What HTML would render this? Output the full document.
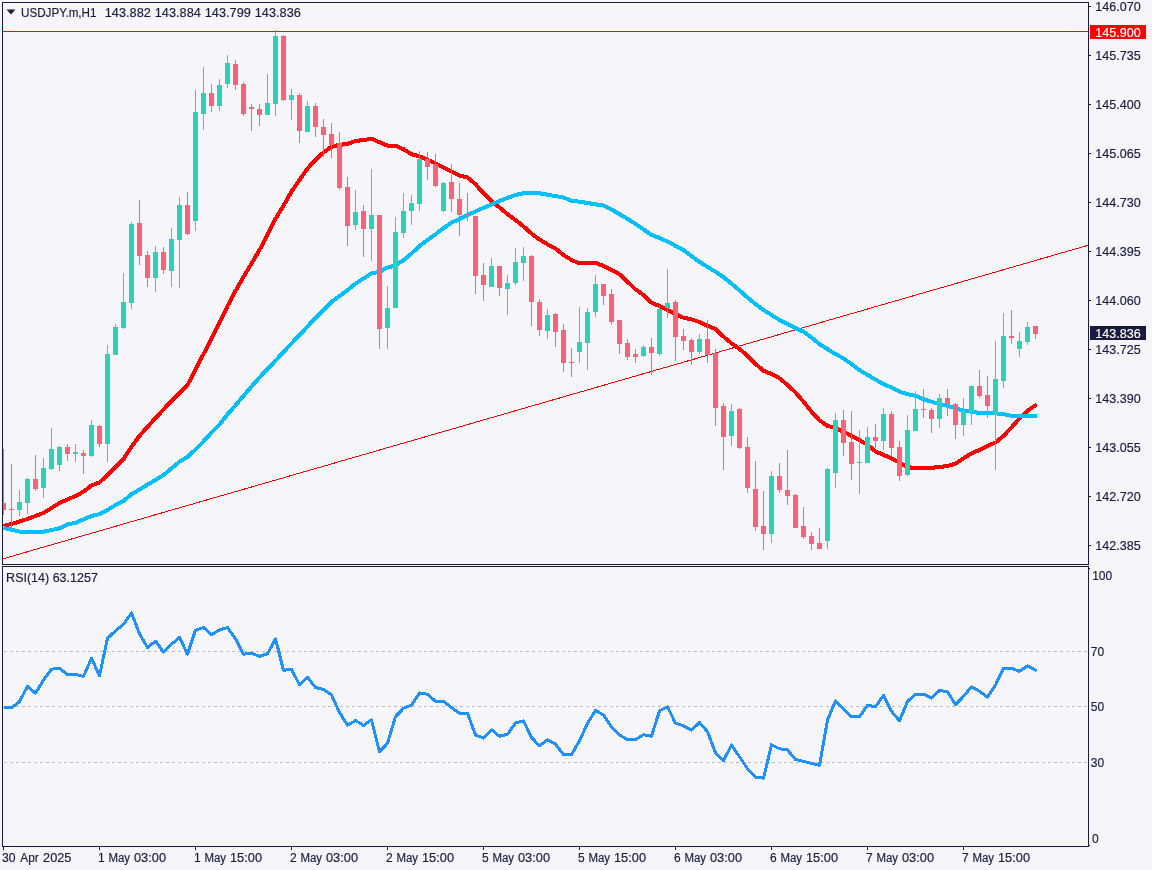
<!DOCTYPE html>
<html><head><meta charset="utf-8"><title>USDJPY.m,H1</title>
<style>
html,body{margin:0;padding:0;background:#f5f5fa;}
body{width:1152px;height:870px;overflow:hidden;}
svg{display:block;}
text{font-family:"Liberation Sans",sans-serif;fill:#1a1a40;stroke:#1a1a40;stroke-width:0.16px;}
.ax{font-size:12px;}
</style></head><body>
<svg width="1152" height="870" viewBox="0 0 1152 870">
<rect width="1152" height="870" fill="#f5f5fa"/>

<g shape-rendering="crispEdges" fill="#1a1a40">
<rect x="2" y="2" width="1087" height="1"/>
<rect x="2" y="2" width="1" height="563"/>
<rect x="2" y="564" width="1087" height="1"/>
<rect x="2" y="566" width="1087" height="1"/>
<rect x="2" y="566" width="1" height="281"/>
<rect x="2" y="846" width="1087" height="1"/>
<rect x="1088" y="2" width="1" height="563"/>
<rect x="1088" y="566" width="1" height="281"/>
<rect x="1089" y="6" width="2" height="1"/>
<rect x="1089" y="55" width="2" height="1"/>
<rect x="1089" y="104" width="2" height="1"/>
<rect x="1089" y="153" width="2" height="1"/>
<rect x="1089" y="202" width="2" height="1"/>
<rect x="1089" y="251" width="2" height="1"/>
<rect x="1089" y="300" width="2" height="1"/>
<rect x="1089" y="349" width="2" height="1"/>
<rect x="1089" y="398" width="2" height="1"/>
<rect x="1089" y="447" width="2" height="1"/>
<rect x="1089" y="496" width="2" height="1"/>
<rect x="1089" y="545" width="2" height="1"/>
<rect x="1089" y="568" width="1" height="1"/>
<rect x="1089" y="845" width="1" height="1"/>
<rect x="3" y="847" width="1" height="3"/>
<rect x="99" y="847" width="1" height="3"/>
<rect x="195" y="847" width="1" height="3"/>
<rect x="291" y="847" width="1" height="3"/>
<rect x="387" y="847" width="1" height="3"/>
<rect x="483" y="847" width="1" height="3"/>
<rect x="579" y="847" width="1" height="3"/>
<rect x="675" y="847" width="1" height="3"/>
<rect x="771" y="847" width="1" height="3"/>
<rect x="867" y="847" width="1" height="3"/>
<rect x="963" y="847" width="1" height="3"/>
</g>
<g shape-rendering="crispEdges" stroke="#bcbcbc" stroke-width="1" stroke-dasharray="3 3">
<line x1="4" y1="651.5" x2="1088" y2="651.5"/>
<line x1="4" y1="706.5" x2="1088" y2="706.5"/>
<line x1="4" y1="762.5" x2="1088" y2="762.5"/>
</g>
<rect x="3" y="31" width="1085" height="1" fill="#ff0000" shape-rendering="crispEdges"/>
<line x1="3" y1="558.8" x2="1088" y2="245.3" stroke="#ff0000" stroke-width="1" shape-rendering="crispEdges"/>
<polyline points="3.5,525.8 11.5,524.0 27.5,519.0 43.5,513.0 59.5,503.0 75.5,496.0 83.5,491.7 91.5,485.5 99.5,482.5 107.5,475.0 123.5,459.0 131.5,446.7 139.5,435.8 155.5,418.0 171.5,401.0 187.5,385.0 195.5,369.5 203.5,354.0 211.5,339.0 219.5,322.7 227.5,306.0 235.5,291.0 243.5,276.8 251.5,263.5 259.5,250.0 267.5,234.9 275.5,218.9 283.5,205.7 291.5,191.5 299.5,180.0 307.5,168.5 315.5,160.0 323.5,152.4 331.5,146.8 339.5,144.8 347.5,144.0 355.5,141.0 363.5,140.0 371.5,138.8 379.5,142.2 387.5,145.6 395.5,145.8 403.5,149.2 411.5,154.2 419.5,156.3 427.5,160.0 435.5,163.3 443.5,167.5 451.5,171.7 459.5,175.5 467.5,177.5 475.5,184.2 483.5,193.3 491.5,200.8 499.5,207.5 507.5,214.2 515.5,220.0 523.5,226.5 531.5,233.5 539.5,239.5 547.5,244.3 555.5,248.5 563.5,255.0 571.5,260.0 579.5,263.5 587.5,262.7 595.5,262.7 603.5,266.0 611.5,270.0 619.5,274.3 627.5,281.8 635.5,289.3 643.5,295.0 651.5,302.7 659.5,306.0 667.5,310.0 675.5,314.3 683.5,317.7 691.5,319.3 699.5,322.0 707.5,325.8 715.5,329.0 723.5,336.7 731.5,343.3 739.5,349.0 747.5,355.8 755.5,364.0 763.5,370.8 771.5,374.0 779.5,378.3 787.5,385.0 795.5,392.5 803.5,401.7 811.5,411.7 819.5,420.4 827.5,425.8 835.5,428.0 843.5,431.7 851.5,435.8 859.5,440.0 867.5,445.0 875.5,451.5 883.5,455.0 891.5,458.3 899.5,462.5 907.5,467.2 915.5,468.0 923.5,468.0 931.5,467.8 939.5,467.0 947.5,466.0 955.5,463.7 963.5,458.3 971.5,453.3 979.5,450.0 987.5,445.8 995.5,442.5 1003.5,435.8 1011.5,427.5 1019.5,418.3 1027.5,410.8 1035.5,405.3 1036.7,404.5" fill="none" stroke="#ff0000" stroke-width="2.8" stroke-linejoin="round"/><polyline points="3.5,525.8 11.5,524.0 27.5,519.0 43.5,513.0 59.5,503.0 75.5,496.0 83.5,491.7 91.5,485.5 99.5,482.5 107.5,475.0 123.5,459.0 131.5,446.7 139.5,435.8 155.5,418.0 171.5,401.0 187.5,385.0 195.5,369.5 203.5,354.0 211.5,339.0 219.5,322.7 227.5,306.0 235.5,291.0 243.5,276.8 251.5,263.5 259.5,250.0 267.5,234.9 275.5,218.9 283.5,205.7 291.5,191.5 299.5,180.0 307.5,168.5 315.5,160.0 323.5,152.4 331.5,146.8 339.5,144.8 347.5,144.0 355.5,141.0 363.5,140.0 371.5,138.8 379.5,142.2 387.5,145.6 395.5,145.8 403.5,149.2 411.5,154.2 419.5,156.3 427.5,160.0 435.5,163.3 443.5,167.5 451.5,171.7 459.5,175.5 467.5,177.5 475.5,184.2 483.5,193.3 491.5,200.8 499.5,207.5 507.5,214.2 515.5,220.0 523.5,226.5 531.5,233.5 539.5,239.5 547.5,244.3 555.5,248.5 563.5,255.0 571.5,260.0 579.5,263.5 587.5,262.7 595.5,262.7 603.5,266.0 611.5,270.0 619.5,274.3 627.5,281.8 635.5,289.3 643.5,295.0 651.5,302.7 659.5,306.0 667.5,310.0 675.5,314.3 683.5,317.7 691.5,319.3 699.5,322.0 707.5,325.8 715.5,329.0 723.5,336.7 731.5,343.3 739.5,349.0 747.5,355.8 755.5,364.0 763.5,370.8 771.5,374.0 779.5,378.3 787.5,385.0 795.5,392.5 803.5,401.7 811.5,411.7 819.5,420.4 827.5,425.8 835.5,428.0 843.5,431.7 851.5,435.8 859.5,440.0 867.5,445.0 875.5,451.5 883.5,455.0 891.5,458.3 899.5,462.5 907.5,467.2 915.5,468.0 923.5,468.0 931.5,467.8 939.5,467.0 947.5,466.0 955.5,463.7 963.5,458.3 971.5,453.3 979.5,450.0 987.5,445.8 995.5,442.5 1003.5,435.8 1011.5,427.5 1019.5,418.3 1027.5,410.8 1035.5,405.3 1036.7,404.5" fill="none" stroke="#ff0000" stroke-width="4" stroke-linejoin="round" stroke-linecap="butt" shape-rendering="crispEdges"/>
<polyline points="3.5,528.0 11.5,529.7 19.5,531.7 27.5,532.2 35.5,532.2 43.5,531.7 51.5,530.0 59.5,528.3 67.5,524.4 75.5,522.8 83.5,519.4 91.5,515.9 99.5,514.2 107.5,510.0 115.5,505.0 123.5,500.8 131.5,494.2 139.5,489.5 147.5,484.6 155.5,480.0 163.5,475.0 171.5,468.3 179.5,461.7 187.5,457.0 195.5,449.5 203.5,441.4 211.5,432.4 219.5,424.5 227.5,414.3 235.5,405.3 243.5,395.8 251.5,386.5 259.5,377.5 267.5,369.0 275.5,360.6 283.5,351.8 291.5,343.5 299.5,335.0 307.5,326.5 315.5,318.0 323.5,309.7 331.5,302.0 339.5,296.0 347.5,290.2 355.5,283.5 363.5,278.5 371.5,273.5 379.5,271.8 387.5,267.7 395.5,265.2 403.5,260.2 411.5,253.5 419.5,246.0 427.5,240.0 435.5,234.3 443.5,228.2 451.5,222.6 459.5,219.2 467.5,215.0 475.5,211.5 483.5,207.8 491.5,204.5 499.5,201.0 507.5,198.0 515.5,194.9 523.5,193.3 531.5,192.8 539.5,193.3 547.5,194.7 555.5,196.1 563.5,197.5 571.5,200.8 579.5,201.7 587.5,203.0 595.5,204.4 603.5,205.3 611.5,209.4 619.5,214.2 627.5,218.9 635.5,223.9 643.5,229.4 651.5,235.0 659.5,238.0 667.5,241.6 675.5,245.8 683.5,250.2 691.5,256.2 699.5,261.9 707.5,266.9 715.5,271.7 723.5,277.2 731.5,283.6 739.5,290.4 747.5,297.5 755.5,304.2 763.5,310.0 771.5,315.0 779.5,320.0 787.5,324.2 795.5,328.0 803.5,331.7 811.5,337.5 819.5,344.2 827.5,349.2 835.5,354.2 843.5,358.3 851.5,364.2 859.5,370.0 867.5,375.0 875.5,379.6 883.5,384.2 891.5,387.5 899.5,391.7 907.5,394.2 915.5,395.8 923.5,399.2 931.5,401.7 939.5,404.2 947.5,405.8 955.5,408.3 963.5,410.8 971.5,411.7 979.5,413.0 987.5,413.3 995.5,413.3 1003.5,414.2 1011.5,415.8 1019.5,415.8 1027.5,415.8 1035.5,416.3 1036.7,416.4" fill="none" stroke="#00bfff" stroke-width="2.8" stroke-linejoin="round"/><polyline points="3.5,528.0 11.5,529.7 19.5,531.7 27.5,532.2 35.5,532.2 43.5,531.7 51.5,530.0 59.5,528.3 67.5,524.4 75.5,522.8 83.5,519.4 91.5,515.9 99.5,514.2 107.5,510.0 115.5,505.0 123.5,500.8 131.5,494.2 139.5,489.5 147.5,484.6 155.5,480.0 163.5,475.0 171.5,468.3 179.5,461.7 187.5,457.0 195.5,449.5 203.5,441.4 211.5,432.4 219.5,424.5 227.5,414.3 235.5,405.3 243.5,395.8 251.5,386.5 259.5,377.5 267.5,369.0 275.5,360.6 283.5,351.8 291.5,343.5 299.5,335.0 307.5,326.5 315.5,318.0 323.5,309.7 331.5,302.0 339.5,296.0 347.5,290.2 355.5,283.5 363.5,278.5 371.5,273.5 379.5,271.8 387.5,267.7 395.5,265.2 403.5,260.2 411.5,253.5 419.5,246.0 427.5,240.0 435.5,234.3 443.5,228.2 451.5,222.6 459.5,219.2 467.5,215.0 475.5,211.5 483.5,207.8 491.5,204.5 499.5,201.0 507.5,198.0 515.5,194.9 523.5,193.3 531.5,192.8 539.5,193.3 547.5,194.7 555.5,196.1 563.5,197.5 571.5,200.8 579.5,201.7 587.5,203.0 595.5,204.4 603.5,205.3 611.5,209.4 619.5,214.2 627.5,218.9 635.5,223.9 643.5,229.4 651.5,235.0 659.5,238.0 667.5,241.6 675.5,245.8 683.5,250.2 691.5,256.2 699.5,261.9 707.5,266.9 715.5,271.7 723.5,277.2 731.5,283.6 739.5,290.4 747.5,297.5 755.5,304.2 763.5,310.0 771.5,315.0 779.5,320.0 787.5,324.2 795.5,328.0 803.5,331.7 811.5,337.5 819.5,344.2 827.5,349.2 835.5,354.2 843.5,358.3 851.5,364.2 859.5,370.0 867.5,375.0 875.5,379.6 883.5,384.2 891.5,387.5 899.5,391.7 907.5,394.2 915.5,395.8 923.5,399.2 931.5,401.7 939.5,404.2 947.5,405.8 955.5,408.3 963.5,410.8 971.5,411.7 979.5,413.0 987.5,413.3 995.5,413.3 1003.5,414.2 1011.5,415.8 1019.5,415.8 1027.5,415.8 1035.5,416.3 1036.7,416.4" fill="none" stroke="#00bfff" stroke-width="4" stroke-linejoin="round" stroke-linecap="butt" shape-rendering="crispEdges"/>
<g shape-rendering="crispEdges">
<rect x="3" y="449" width="1" height="66" fill="#f56478"/><rect x="3" y="503" width="3" height="7" fill="#f56478"/>
<rect x="11" y="464" width="1" height="64" fill="#f56478"/><rect x="9" y="509" width="5" height="1" fill="#f56478"/>
<rect x="19" y="490" width="1" height="26" fill="#30d0b8"/><rect x="17" y="502" width="5" height="8" fill="#30d0b8"/>
<rect x="27" y="478" width="1" height="36" fill="#30d0b8"/><rect x="25" y="479" width="5" height="24" fill="#30d0b8"/>
<rect x="35" y="455" width="1" height="36" fill="#f56478"/><rect x="33" y="479" width="5" height="10" fill="#f56478"/>
<rect x="43" y="458" width="1" height="40" fill="#30d0b8"/><rect x="41" y="468" width="5" height="20" fill="#30d0b8"/>
<rect x="51" y="428" width="1" height="42" fill="#30d0b8"/><rect x="49" y="449" width="5" height="20" fill="#30d0b8"/>
<rect x="59" y="446" width="1" height="25" fill="#30d0b8"/><rect x="57" y="447" width="5" height="18" fill="#30d0b8"/>
<rect x="67" y="444" width="1" height="17" fill="#f56478"/><rect x="65" y="447" width="5" height="7" fill="#f56478"/>
<rect x="75" y="444" width="1" height="18" fill="#30d0b8"/><rect x="73" y="452" width="5" height="2" fill="#30d0b8"/>
<rect x="83" y="450" width="1" height="24" fill="#f56478"/><rect x="81" y="453" width="5" height="3" fill="#f56478"/>
<rect x="91" y="420" width="1" height="37" fill="#30d0b8"/><rect x="89" y="425" width="5" height="31" fill="#30d0b8"/>
<rect x="99" y="425" width="1" height="22" fill="#f56478"/><rect x="97" y="426" width="5" height="18" fill="#f56478"/>
<rect x="107" y="345" width="1" height="117" fill="#30d0b8"/><rect x="105" y="354" width="5" height="90" fill="#30d0b8"/>
<rect x="115" y="324" width="1" height="31" fill="#30d0b8"/><rect x="113" y="327" width="5" height="28" fill="#30d0b8"/>
<rect x="123" y="273" width="1" height="56" fill="#30d0b8"/><rect x="121" y="302" width="5" height="26" fill="#30d0b8"/>
<rect x="131" y="222" width="1" height="87" fill="#30d0b8"/><rect x="129" y="224" width="5" height="79" fill="#30d0b8"/>
<rect x="139" y="200" width="1" height="65" fill="#f56478"/><rect x="137" y="223" width="5" height="33" fill="#f56478"/>
<rect x="147" y="251" width="1" height="36" fill="#f56478"/><rect x="145" y="255" width="5" height="23" fill="#f56478"/>
<rect x="155" y="246" width="1" height="46" fill="#30d0b8"/><rect x="153" y="252" width="5" height="26" fill="#30d0b8"/>
<rect x="163" y="247" width="1" height="27" fill="#f56478"/><rect x="161" y="252" width="5" height="18" fill="#f56478"/>
<rect x="171" y="228" width="1" height="59" fill="#30d0b8"/><rect x="169" y="239" width="5" height="32" fill="#30d0b8"/>
<rect x="179" y="197" width="1" height="91" fill="#30d0b8"/><rect x="177" y="205" width="5" height="35" fill="#30d0b8"/>
<rect x="187" y="192" width="1" height="43" fill="#f56478"/><rect x="185" y="205" width="5" height="29" fill="#f56478"/>
<rect x="195" y="90" width="1" height="141" fill="#30d0b8"/><rect x="193" y="112" width="5" height="109" fill="#30d0b8"/>
<rect x="203" y="67" width="1" height="63" fill="#30d0b8"/><rect x="201" y="93" width="5" height="21" fill="#30d0b8"/>
<rect x="211" y="84" width="1" height="28" fill="#f56478"/><rect x="209" y="93" width="5" height="13" fill="#f56478"/>
<rect x="219" y="79" width="1" height="32" fill="#30d0b8"/><rect x="217" y="85" width="5" height="21" fill="#30d0b8"/>
<rect x="227" y="55" width="1" height="33" fill="#30d0b8"/><rect x="225" y="63" width="5" height="21" fill="#30d0b8"/>
<rect x="235" y="60" width="1" height="30" fill="#f56478"/><rect x="233" y="64" width="5" height="21" fill="#f56478"/>
<rect x="243" y="82" width="1" height="34" fill="#f56478"/><rect x="241" y="84" width="5" height="30" fill="#f56478"/>
<rect x="251" y="104" width="1" height="27" fill="#f56478"/><rect x="249" y="107" width="5" height="2" fill="#f56478"/>
<rect x="259" y="104" width="1" height="22" fill="#f56478"/><rect x="257" y="109" width="5" height="6" fill="#f56478"/>
<rect x="267" y="74" width="1" height="41" fill="#30d0b8"/><rect x="265" y="103" width="5" height="12" fill="#30d0b8"/>
<rect x="275" y="30" width="1" height="86" fill="#30d0b8"/><rect x="273" y="36" width="5" height="68" fill="#30d0b8"/>
<rect x="283" y="35" width="1" height="66" fill="#f56478"/><rect x="281" y="36" width="5" height="64" fill="#f56478"/>
<rect x="291" y="89" width="1" height="31" fill="#30d0b8"/><rect x="289" y="95" width="5" height="5" fill="#30d0b8"/>
<rect x="299" y="93" width="1" height="50" fill="#f56478"/><rect x="297" y="95" width="5" height="36" fill="#f56478"/>
<rect x="307" y="101" width="1" height="31" fill="#30d0b8"/><rect x="305" y="106" width="5" height="26" fill="#30d0b8"/>
<rect x="315" y="103" width="1" height="34" fill="#f56478"/><rect x="313" y="106" width="5" height="21" fill="#f56478"/>
<rect x="323" y="119" width="1" height="38" fill="#f56478"/><rect x="321" y="127" width="5" height="8" fill="#f56478"/>
<rect x="331" y="123" width="1" height="35" fill="#f56478"/><rect x="329" y="134" width="5" height="11" fill="#f56478"/>
<rect x="339" y="132" width="1" height="58" fill="#f56478"/><rect x="337" y="143" width="5" height="45" fill="#f56478"/>
<rect x="347" y="177" width="1" height="69" fill="#f56478"/><rect x="345" y="187" width="5" height="39" fill="#f56478"/>
<rect x="355" y="190" width="1" height="40" fill="#30d0b8"/><rect x="353" y="212" width="5" height="13" fill="#30d0b8"/>
<rect x="363" y="205" width="1" height="52" fill="#f56478"/><rect x="361" y="211" width="5" height="18" fill="#f56478"/>
<rect x="371" y="169" width="1" height="92" fill="#30d0b8"/><rect x="369" y="215" width="5" height="14" fill="#30d0b8"/>
<rect x="379" y="215" width="1" height="134" fill="#f56478"/><rect x="377" y="215" width="5" height="114" fill="#f56478"/>
<rect x="387" y="286" width="1" height="63" fill="#30d0b8"/><rect x="385" y="308" width="5" height="20" fill="#30d0b8"/>
<rect x="395" y="217" width="1" height="91" fill="#30d0b8"/><rect x="393" y="232" width="5" height="76" fill="#30d0b8"/>
<rect x="403" y="193" width="1" height="45" fill="#30d0b8"/><rect x="401" y="211" width="5" height="22" fill="#30d0b8"/>
<rect x="411" y="195" width="1" height="30" fill="#30d0b8"/><rect x="409" y="203" width="5" height="8" fill="#30d0b8"/>
<rect x="419" y="151" width="1" height="60" fill="#30d0b8"/><rect x="417" y="159" width="5" height="45" fill="#30d0b8"/>
<rect x="427" y="152" width="1" height="28" fill="#f56478"/><rect x="425" y="159" width="5" height="8" fill="#f56478"/>
<rect x="435" y="154" width="1" height="33" fill="#f56478"/><rect x="433" y="164" width="5" height="22" fill="#f56478"/>
<rect x="443" y="182" width="1" height="30" fill="#30d0b8"/><rect x="441" y="183" width="5" height="28" fill="#30d0b8"/>
<rect x="451" y="164" width="1" height="48" fill="#f56478"/><rect x="449" y="182" width="5" height="17" fill="#f56478"/>
<rect x="459" y="183" width="1" height="53" fill="#f56478"/><rect x="457" y="199" width="5" height="16" fill="#f56478"/>
<rect x="467" y="193" width="1" height="28" fill="#f56478"/><rect x="465" y="214" width="5" height="2" fill="#f56478"/>
<rect x="475" y="216" width="1" height="78" fill="#f56478"/><rect x="473" y="216" width="5" height="60" fill="#f56478"/>
<rect x="483" y="263" width="1" height="38" fill="#f56478"/><rect x="481" y="275" width="5" height="10" fill="#f56478"/>
<rect x="491" y="258" width="1" height="29" fill="#30d0b8"/><rect x="489" y="266" width="5" height="21" fill="#30d0b8"/>
<rect x="499" y="266" width="1" height="30" fill="#f56478"/><rect x="497" y="266" width="5" height="22" fill="#f56478"/>
<rect x="507" y="275" width="1" height="40" fill="#30d0b8"/><rect x="505" y="283" width="5" height="6" fill="#30d0b8"/>
<rect x="515" y="248" width="1" height="37" fill="#30d0b8"/><rect x="513" y="262" width="5" height="21" fill="#30d0b8"/>
<rect x="523" y="247" width="1" height="34" fill="#30d0b8"/><rect x="521" y="256" width="5" height="7" fill="#30d0b8"/>
<rect x="531" y="255" width="1" height="71" fill="#f56478"/><rect x="529" y="256" width="5" height="46" fill="#f56478"/>
<rect x="539" y="299" width="1" height="37" fill="#f56478"/><rect x="537" y="302" width="5" height="28" fill="#f56478"/>
<rect x="547" y="309" width="1" height="30" fill="#30d0b8"/><rect x="545" y="315" width="5" height="16" fill="#30d0b8"/>
<rect x="555" y="313" width="1" height="34" fill="#f56478"/><rect x="553" y="314" width="5" height="18" fill="#f56478"/>
<rect x="563" y="324" width="1" height="48" fill="#f56478"/><rect x="561" y="330" width="5" height="33" fill="#f56478"/>
<rect x="571" y="348" width="1" height="29" fill="#f56478"/><rect x="569" y="362" width="5" height="1" fill="#f56478"/>
<rect x="579" y="307" width="1" height="56" fill="#30d0b8"/><rect x="577" y="342" width="5" height="10" fill="#30d0b8"/>
<rect x="587" y="308" width="1" height="62" fill="#30d0b8"/><rect x="585" y="312" width="5" height="31" fill="#30d0b8"/>
<rect x="595" y="275" width="1" height="42" fill="#30d0b8"/><rect x="593" y="284" width="5" height="28" fill="#30d0b8"/>
<rect x="603" y="284" width="1" height="21" fill="#f56478"/><rect x="601" y="284" width="5" height="12" fill="#f56478"/>
<rect x="611" y="289" width="1" height="36" fill="#f56478"/><rect x="609" y="294" width="5" height="28" fill="#f56478"/>
<rect x="619" y="320" width="1" height="34" fill="#f56478"/><rect x="617" y="320" width="5" height="24" fill="#f56478"/>
<rect x="627" y="339" width="1" height="21" fill="#f56478"/><rect x="625" y="343" width="5" height="14" fill="#f56478"/>
<rect x="635" y="349" width="1" height="14" fill="#f56478"/><rect x="633" y="354" width="5" height="3" fill="#f56478"/>
<rect x="643" y="345" width="1" height="12" fill="#30d0b8"/><rect x="641" y="347" width="5" height="9" fill="#30d0b8"/>
<rect x="651" y="338" width="1" height="37" fill="#f56478"/><rect x="649" y="347" width="5" height="6" fill="#f56478"/>
<rect x="659" y="306" width="1" height="50" fill="#30d0b8"/><rect x="657" y="309" width="5" height="45" fill="#30d0b8"/>
<rect x="667" y="269" width="1" height="49" fill="#30d0b8"/><rect x="665" y="303" width="5" height="5" fill="#30d0b8"/>
<rect x="675" y="300" width="1" height="61" fill="#f56478"/><rect x="673" y="302" width="5" height="35" fill="#f56478"/>
<rect x="683" y="329" width="1" height="21" fill="#f56478"/><rect x="681" y="336" width="5" height="5" fill="#f56478"/>
<rect x="691" y="338" width="1" height="27" fill="#f56478"/><rect x="689" y="340" width="5" height="12" fill="#f56478"/>
<rect x="699" y="334" width="1" height="20" fill="#30d0b8"/><rect x="697" y="339" width="5" height="13" fill="#30d0b8"/>
<rect x="707" y="320" width="1" height="43" fill="#f56478"/><rect x="705" y="339" width="5" height="16" fill="#f56478"/>
<rect x="715" y="349" width="1" height="77" fill="#f56478"/><rect x="713" y="353" width="5" height="55" fill="#f56478"/>
<rect x="723" y="403" width="1" height="67" fill="#f56478"/><rect x="721" y="406" width="5" height="31" fill="#f56478"/>
<rect x="731" y="404" width="1" height="42" fill="#30d0b8"/><rect x="729" y="411" width="5" height="25" fill="#30d0b8"/>
<rect x="739" y="408" width="1" height="41" fill="#f56478"/><rect x="737" y="409" width="5" height="39" fill="#f56478"/>
<rect x="747" y="437" width="1" height="56" fill="#f56478"/><rect x="745" y="447" width="5" height="41" fill="#f56478"/>
<rect x="755" y="461" width="1" height="70" fill="#f56478"/><rect x="753" y="489" width="5" height="38" fill="#f56478"/>
<rect x="763" y="491" width="1" height="59" fill="#f56478"/><rect x="761" y="526" width="5" height="8" fill="#f56478"/>
<rect x="771" y="471" width="1" height="72" fill="#30d0b8"/><rect x="769" y="476" width="5" height="58" fill="#30d0b8"/>
<rect x="779" y="463" width="1" height="30" fill="#f56478"/><rect x="777" y="476" width="5" height="14" fill="#f56478"/>
<rect x="787" y="450" width="1" height="55" fill="#f56478"/><rect x="785" y="490" width="5" height="6" fill="#f56478"/>
<rect x="795" y="494" width="1" height="34" fill="#f56478"/><rect x="793" y="495" width="5" height="33" fill="#f56478"/>
<rect x="803" y="507" width="1" height="32" fill="#f56478"/><rect x="801" y="526" width="5" height="11" fill="#f56478"/>
<rect x="811" y="532" width="1" height="18" fill="#f56478"/><rect x="809" y="536" width="5" height="8" fill="#f56478"/>
<rect x="819" y="528" width="1" height="21" fill="#f56478"/><rect x="817" y="543" width="5" height="6" fill="#f56478"/>
<rect x="827" y="468" width="1" height="81" fill="#30d0b8"/><rect x="825" y="469" width="5" height="72" fill="#30d0b8"/>
<rect x="835" y="413" width="1" height="75" fill="#30d0b8"/><rect x="833" y="420" width="5" height="53" fill="#30d0b8"/>
<rect x="843" y="410" width="1" height="46" fill="#f56478"/><rect x="841" y="420" width="5" height="23" fill="#f56478"/>
<rect x="851" y="411" width="1" height="69" fill="#f56478"/><rect x="849" y="442" width="5" height="22" fill="#f56478"/>
<rect x="859" y="430" width="1" height="64" fill="#30d0b8"/><rect x="857" y="462" width="5" height="1" fill="#30d0b8"/>
<rect x="867" y="427" width="1" height="36" fill="#30d0b8"/><rect x="865" y="437" width="5" height="26" fill="#30d0b8"/>
<rect x="875" y="424" width="1" height="24" fill="#f56478"/><rect x="873" y="437" width="5" height="4" fill="#f56478"/>
<rect x="883" y="408" width="1" height="42" fill="#30d0b8"/><rect x="881" y="414" width="5" height="27" fill="#30d0b8"/>
<rect x="891" y="411" width="1" height="45" fill="#f56478"/><rect x="889" y="414" width="5" height="34" fill="#f56478"/>
<rect x="899" y="441" width="1" height="40" fill="#f56478"/><rect x="897" y="447" width="5" height="29" fill="#f56478"/>
<rect x="907" y="415" width="1" height="61" fill="#30d0b8"/><rect x="905" y="430" width="5" height="45" fill="#30d0b8"/>
<rect x="915" y="391" width="1" height="40" fill="#30d0b8"/><rect x="913" y="409" width="5" height="22" fill="#30d0b8"/>
<rect x="923" y="389" width="1" height="29" fill="#f56478"/><rect x="921" y="409" width="5" height="1" fill="#f56478"/>
<rect x="931" y="408" width="1" height="25" fill="#f56478"/><rect x="929" y="410" width="5" height="9" fill="#f56478"/>
<rect x="939" y="394" width="1" height="34" fill="#30d0b8"/><rect x="937" y="398" width="5" height="21" fill="#30d0b8"/>
<rect x="947" y="389" width="1" height="27" fill="#f56478"/><rect x="945" y="398" width="5" height="6" fill="#f56478"/>
<rect x="955" y="403" width="1" height="36" fill="#f56478"/><rect x="953" y="404" width="5" height="21" fill="#f56478"/>
<rect x="963" y="398" width="1" height="38" fill="#30d0b8"/><rect x="961" y="411" width="5" height="14" fill="#30d0b8"/>
<rect x="971" y="386" width="1" height="39" fill="#30d0b8"/><rect x="969" y="386" width="5" height="26" fill="#30d0b8"/>
<rect x="979" y="370" width="1" height="28" fill="#f56478"/><rect x="977" y="386" width="5" height="10" fill="#f56478"/>
<rect x="987" y="376" width="1" height="42" fill="#f56478"/><rect x="985" y="395" width="5" height="11" fill="#f56478"/>
<rect x="995" y="341" width="1" height="129" fill="#30d0b8"/><rect x="993" y="379" width="5" height="36" fill="#30d0b8"/>
<rect x="1003" y="313" width="1" height="75" fill="#30d0b8"/><rect x="1001" y="336" width="5" height="45" fill="#30d0b8"/>
<rect x="1011" y="310" width="1" height="34" fill="#f56478"/><rect x="1009" y="336" width="5" height="2" fill="#f56478"/>
<rect x="1019" y="332" width="1" height="25" fill="#30d0b8"/><rect x="1017" y="341" width="5" height="8" fill="#30d0b8"/>
<rect x="1027" y="322" width="1" height="23" fill="#30d0b8"/><rect x="1025" y="327" width="5" height="15" fill="#30d0b8"/>
<rect x="1035" y="326" width="1" height="13" fill="#f56478"/><rect x="1033" y="326" width="5" height="8" fill="#f56478"/>
</g>
<polyline points="3.5,707.7 11.5,707.7 19.5,701.7 27.5,686.3 35.5,693.3 43.5,680.0 51.5,669.2 59.5,668.3 67.5,674.5 75.5,674.5 83.5,676.3 91.5,658.3 99.5,675.8 107.5,638.3 115.5,630.8 123.5,624.2 131.5,613.0 139.5,633.7 147.5,647.5 155.5,641.3 163.5,652.0 171.5,644.2 179.5,637.5 187.5,654.2 195.5,630.3 203.5,627.5 211.5,634.7 219.5,630.0 227.5,627.5 235.5,638.8 243.5,654.2 251.5,653.3 259.5,656.3 267.5,653.8 275.5,638.8 283.5,670.3 291.5,669.5 299.5,684.7 307.5,677.2 315.5,687.5 323.5,689.5 331.5,695.0 339.5,712.5 347.5,725.3 355.5,720.5 363.5,725.4 371.5,719.7 379.5,751.7 387.5,743.3 395.5,716.7 403.5,708.3 411.5,705.0 419.5,693.0 427.5,694.2 435.5,701.3 443.5,701.3 451.5,707.5 459.5,713.3 467.5,713.3 475.5,735.0 483.5,738.0 491.5,729.7 499.5,736.3 507.5,734.2 515.5,723.0 523.5,720.8 531.5,737.5 539.5,745.8 547.5,739.7 555.5,744.2 563.5,754.5 571.5,754.5 579.5,740.8 587.5,723.3 595.5,710.3 603.5,715.0 611.5,727.0 619.5,735.0 627.5,739.5 635.5,739.5 643.5,734.7 651.5,736.3 659.5,710.8 667.5,706.7 675.5,723.3 683.5,725.8 691.5,730.3 699.5,722.5 707.5,731.7 715.5,753.0 723.5,760.8 731.5,745.0 739.5,756.7 747.5,768.7 755.5,777.0 763.5,778.3 771.5,744.7 779.5,748.7 787.5,750.0 795.5,759.5 803.5,761.3 811.5,763.3 819.5,765.3 827.5,720.0 835.5,700.8 843.5,708.7 851.5,716.7 859.5,716.7 867.5,705.3 875.5,706.7 883.5,695.5 891.5,711.3 899.5,720.8 907.5,701.3 915.5,694.2 923.5,694.2 931.5,698.0 939.5,690.5 947.5,691.7 955.5,704.7 963.5,696.3 971.5,686.7 979.5,691.3 987.5,697.2 995.5,685.0 1003.5,668.3 1011.5,668.3 1019.5,671.3 1027.5,665.8 1035.5,670.3 1036.7,671.0" fill="none" stroke="#1e90ff" stroke-width="1.8" stroke-linejoin="round"/><polyline points="3.5,707.7 11.5,707.7 19.5,701.7 27.5,686.3 35.5,693.3 43.5,680.0 51.5,669.2 59.5,668.3 67.5,674.5 75.5,674.5 83.5,676.3 91.5,658.3 99.5,675.8 107.5,638.3 115.5,630.8 123.5,624.2 131.5,613.0 139.5,633.7 147.5,647.5 155.5,641.3 163.5,652.0 171.5,644.2 179.5,637.5 187.5,654.2 195.5,630.3 203.5,627.5 211.5,634.7 219.5,630.0 227.5,627.5 235.5,638.8 243.5,654.2 251.5,653.3 259.5,656.3 267.5,653.8 275.5,638.8 283.5,670.3 291.5,669.5 299.5,684.7 307.5,677.2 315.5,687.5 323.5,689.5 331.5,695.0 339.5,712.5 347.5,725.3 355.5,720.5 363.5,725.4 371.5,719.7 379.5,751.7 387.5,743.3 395.5,716.7 403.5,708.3 411.5,705.0 419.5,693.0 427.5,694.2 435.5,701.3 443.5,701.3 451.5,707.5 459.5,713.3 467.5,713.3 475.5,735.0 483.5,738.0 491.5,729.7 499.5,736.3 507.5,734.2 515.5,723.0 523.5,720.8 531.5,737.5 539.5,745.8 547.5,739.7 555.5,744.2 563.5,754.5 571.5,754.5 579.5,740.8 587.5,723.3 595.5,710.3 603.5,715.0 611.5,727.0 619.5,735.0 627.5,739.5 635.5,739.5 643.5,734.7 651.5,736.3 659.5,710.8 667.5,706.7 675.5,723.3 683.5,725.8 691.5,730.3 699.5,722.5 707.5,731.7 715.5,753.0 723.5,760.8 731.5,745.0 739.5,756.7 747.5,768.7 755.5,777.0 763.5,778.3 771.5,744.7 779.5,748.7 787.5,750.0 795.5,759.5 803.5,761.3 811.5,763.3 819.5,765.3 827.5,720.0 835.5,700.8 843.5,708.7 851.5,716.7 859.5,716.7 867.5,705.3 875.5,706.7 883.5,695.5 891.5,711.3 899.5,720.8 907.5,701.3 915.5,694.2 923.5,694.2 931.5,698.0 939.5,690.5 947.5,691.7 955.5,704.7 963.5,696.3 971.5,686.7 979.5,691.3 987.5,697.2 995.5,685.0 1003.5,668.3 1011.5,668.3 1019.5,671.3 1027.5,665.8 1035.5,670.3 1036.7,671.0" fill="none" stroke="#1e90ff" stroke-width="3" stroke-linejoin="round" stroke-linecap="butt" shape-rendering="crispEdges"/>
<text class="ax" x="1095.3" y="11.1" textLength="45.4" lengthAdjust="spacingAndGlyphs">146.070</text>
<text class="ax" x="1095.3" y="60.1" textLength="45.4" lengthAdjust="spacingAndGlyphs">145.735</text>
<text class="ax" x="1095.3" y="109.1" textLength="45.4" lengthAdjust="spacingAndGlyphs">145.400</text>
<text class="ax" x="1095.3" y="158.1" textLength="45.4" lengthAdjust="spacingAndGlyphs">145.065</text>
<text class="ax" x="1095.3" y="207.1" textLength="45.4" lengthAdjust="spacingAndGlyphs">144.730</text>
<text class="ax" x="1095.3" y="256.1" textLength="45.4" lengthAdjust="spacingAndGlyphs">144.395</text>
<text class="ax" x="1095.3" y="305.1" textLength="45.4" lengthAdjust="spacingAndGlyphs">144.060</text>
<text class="ax" x="1095.3" y="354.1" textLength="45.4" lengthAdjust="spacingAndGlyphs">143.725</text>
<text class="ax" x="1095.3" y="403.1" textLength="45.4" lengthAdjust="spacingAndGlyphs">143.390</text>
<text class="ax" x="1095.3" y="452.1" textLength="45.4" lengthAdjust="spacingAndGlyphs">143.055</text>
<text class="ax" x="1095.3" y="501.1" textLength="45.4" lengthAdjust="spacingAndGlyphs">142.720</text>
<text class="ax" x="1095.3" y="550.1" textLength="45.4" lengthAdjust="spacingAndGlyphs">142.385</text>
<rect x="1090" y="25" width="56" height="14" fill="#ff0000" shape-rendering="crispEdges"/>
<text class="ax" x="1095.3" y="36.9" textLength="45.4" lengthAdjust="spacingAndGlyphs" style="fill:#fff;stroke:#fff;">145.900</text>
<rect x="1090" y="326" width="56" height="14" fill="#1a1a40" shape-rendering="crispEdges"/>
<text class="ax" x="1095.3" y="338.1" textLength="45.4" lengthAdjust="spacingAndGlyphs" style="fill:#fff;stroke:#fff;">143.836</text>
<text class="ax" x="1092.2" y="580.4">100</text>
<text class="ax" x="1090.8" y="655.9">70</text>
<text class="ax" x="1090.8" y="710.9">50</text>
<text class="ax" x="1090.8" y="766.9">30</text>
<text class="ax" x="1092.1" y="843.4">0</text>
<text class="ax" x="1.9" y="862" textLength="13.6" lengthAdjust="spacingAndGlyphs">30</text>
<text class="ax" x="20.3" y="862" textLength="18.4" lengthAdjust="spacingAndGlyphs">Apr</text>
<text class="ax" x="43.1" y="862" textLength="28.3" lengthAdjust="spacingAndGlyphs">2025</text>
<text class="ax" x="98.1" y="862">1</text>
<text class="ax" x="108.4" y="862" textLength="21.6" lengthAdjust="spacingAndGlyphs">May</text>
<text class="ax" x="134" y="862" textLength="32" lengthAdjust="spacingAndGlyphs">03:00</text>
<text class="ax" x="194.1" y="862">1</text>
<text class="ax" x="204.4" y="862" textLength="21.6" lengthAdjust="spacingAndGlyphs">May</text>
<text class="ax" x="230" y="862" textLength="32" lengthAdjust="spacingAndGlyphs">15:00</text>
<text class="ax" x="290.1" y="862">2</text>
<text class="ax" x="300.4" y="862" textLength="21.6" lengthAdjust="spacingAndGlyphs">May</text>
<text class="ax" x="326" y="862" textLength="32" lengthAdjust="spacingAndGlyphs">03:00</text>
<text class="ax" x="386.1" y="862">2</text>
<text class="ax" x="396.4" y="862" textLength="21.6" lengthAdjust="spacingAndGlyphs">May</text>
<text class="ax" x="422" y="862" textLength="32" lengthAdjust="spacingAndGlyphs">15:00</text>
<text class="ax" x="482.1" y="862">5</text>
<text class="ax" x="492.4" y="862" textLength="21.6" lengthAdjust="spacingAndGlyphs">May</text>
<text class="ax" x="518" y="862" textLength="32" lengthAdjust="spacingAndGlyphs">03:00</text>
<text class="ax" x="578.1" y="862">5</text>
<text class="ax" x="588.4" y="862" textLength="21.6" lengthAdjust="spacingAndGlyphs">May</text>
<text class="ax" x="614" y="862" textLength="32" lengthAdjust="spacingAndGlyphs">15:00</text>
<text class="ax" x="674.1" y="862">6</text>
<text class="ax" x="684.4" y="862" textLength="21.6" lengthAdjust="spacingAndGlyphs">May</text>
<text class="ax" x="710" y="862" textLength="32" lengthAdjust="spacingAndGlyphs">03:00</text>
<text class="ax" x="770.1" y="862">6</text>
<text class="ax" x="780.4" y="862" textLength="21.6" lengthAdjust="spacingAndGlyphs">May</text>
<text class="ax" x="806" y="862" textLength="32" lengthAdjust="spacingAndGlyphs">15:00</text>
<text class="ax" x="866.1" y="862">7</text>
<text class="ax" x="876.4" y="862" textLength="21.6" lengthAdjust="spacingAndGlyphs">May</text>
<text class="ax" x="902" y="862" textLength="32" lengthAdjust="spacingAndGlyphs">03:00</text>
<text class="ax" x="962.1" y="862">7</text>
<text class="ax" x="972.4" y="862" textLength="21.6" lengthAdjust="spacingAndGlyphs">May</text>
<text class="ax" x="998" y="862" textLength="32" lengthAdjust="spacingAndGlyphs">15:00</text>
<path d="M6.5 9.5 L15.5 9.5 L11 14.5 Z" fill="#1a1a40"/>
<text class="ax" x="21" y="17" textLength="75.5" lengthAdjust="spacingAndGlyphs">USDJPY.m,H1</text>
<text class="ax" x="104.8" y="17" textLength="46" lengthAdjust="spacingAndGlyphs">143.882</text>
<text class="ax" x="154.8" y="17" textLength="46" lengthAdjust="spacingAndGlyphs">143.884</text>
<text class="ax" x="204.8" y="17" textLength="46" lengthAdjust="spacingAndGlyphs">143.799</text>
<text class="ax" x="254.8" y="17" textLength="46" lengthAdjust="spacingAndGlyphs">143.836</text>
<text class="ax" x="6.1" y="581.5" textLength="91.8" lengthAdjust="spacingAndGlyphs">RSI(14) 63.1257</text>
</svg></body></html>
